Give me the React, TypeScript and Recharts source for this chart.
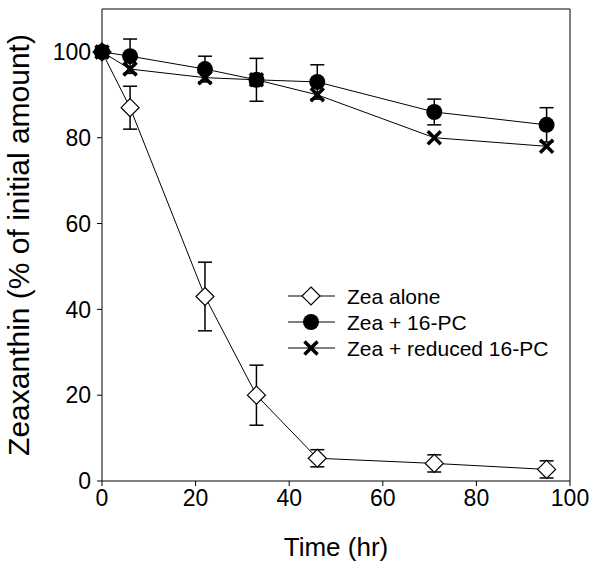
import React from 'react';
import { LineChart, Line, XAxis, YAxis, ErrorBar, Legend, ReferenceLine } from 'recharts';

const times = [0, 6, 22, 33, 46, 71, 95];
const zeaAlone = [100, 87, 43, 20, 5.3, 4.1, 2.7];
const zeaAloneErr = [0, 5, 8, 7, 2, 2, 2];
const zea16PC = [100, 99, 96, 93.5, 93, 86, 83];
const zea16PCErr = [0, 4, 3, 5, 4, 3, 4];
const zeaReduced = [100, 96, 94, 93.5, 90, 80, 78];
const xTicks = [0, 20, 40, 60, 80, 100];
const yTicks = [0, 20, 40, 60, 80, 100];
const seriesNames = ['Zea alone', 'Zea + 16-PC', 'Zea + reduced 16-PC'];

const data = times.map((t, i) => ({
  t,
  alone: zeaAlone[i],
  aloneErr: zeaAloneErr[i],
  pc: zea16PC[i],
  pcErr: zea16PCErr[i],
  red: zeaReduced[i],
}));

const FONT = '"Liberation Sans", Arial, sans-serif';

const diamondPath = (cx: number, cy: number, r: number) =>
  `M${cx},${cy - r}L${cx + r},${cy}L${cx},${cy + r}L${cx - r},${cy}Z`;

const DiamondDot = (props: any) => {
  const { cx, cy, index } = props;
  if (cx == null || cy == null) return <g key={`d${index}`} />;
  return <path key={`d${index}`} d={diamondPath(cx, cy, 9)} fill="#fff" stroke="#000" strokeWidth={1.2} />;
};

const CircleDot = (props: any) => {
  const { cx, cy, index } = props;
  if (cx == null || cy == null) return <g key={`c${index}`} />;
  return <circle key={`c${index}`} cx={cx} cy={cy} r={8} fill="#000" />;
};

const CrossDot = (props: any) => {
  const { cx, cy, index } = props;
  if (cx == null || cy == null) return <g key={`x${index}`} />;
  const s = 6.5;
  return (
    <g key={`x${index}`} stroke="#000" strokeWidth={3.5}>
      <line x1={cx - s} y1={cy - s} x2={cx + s} y2={cy + s} />
      <line x1={cx - s} y1={cy + s} x2={cx + s} y2={cy - s} />
    </g>
  );
};

const LegendContent = () => {
  const rowH = 26;
  return (
    <svg width={300} height={80} style={{ display: 'block' }}>
      {seriesNames.map((name, i) => {
        const y = 12 + i * rowH;
        const cx = 23;
        return (
          <g key={name}>
            <line x1={0} y1={y} x2={47} y2={y} stroke="#000" strokeWidth={1} />
            {i === 0 && <path d={diamondPath(cx, y, 9)} fill="#fff" stroke="#000" strokeWidth={1.2} />}
            {i === 1 && <circle cx={cx} cy={y} r={8} fill="#000" />}
            {i === 2 && (
              <g stroke="#000" strokeWidth={3.5}>
                <line x1={cx - 6.5} y1={y - 6.5} x2={cx + 6.5} y2={y + 6.5} />
                <line x1={cx - 6.5} y1={y + 6.5} x2={cx + 6.5} y2={y - 6.5} />
              </g>
            )}
            <text x={59} y={y} dy="0.36em" fontSize={21} fontFamily={FONT} fill="#000">
              {name}
            </text>
          </g>
        );
      })}
    </svg>
  );
};

export default function App() {
  const tickStyle = { fontSize: 23, fontFamily: FONT, fill: '#000' };
  return (
    <div style={{ position: 'absolute', left: 0, top: 0, width: 604, height: 576, background: '#fff' }}>
      <LineChart width={604} height={576} data={data} margin={{ top: 9, right: 34, left: 0, bottom: 0 }}>
        <XAxis
          xAxisId="b"
          dataKey="t"
          type="number"
          domain={[0, 100]}
          ticks={xTicks}
          height={95}
          tickSize={5}
          tickMargin={4}
          tick={tickStyle}
          stroke="#000"
          axisLine={{ stroke: '#000', strokeWidth: 1 }}
          tickLine={{ stroke: '#000' }}
          label={{ value: 'Time (hr)', position: 'insideBottom', offset: 20, style: { fontSize: 26, fontFamily: FONT, fill: '#000' } }}
        />
        <YAxis
          yAxisId="l"
          type="number"
          domain={[0, 110]}
          ticks={yTicks}
          width={102}
          tickSize={5}
          tickMargin={6}
          tick={tickStyle}
          axisLine={{ stroke: '#000', strokeWidth: 1 }}
          tickLine={{ stroke: '#000' }}
          label={{ value: 'Zeaxanthin (% of initial amount)', angle: -90, position: 'insideLeft', offset: 18, style: { textAnchor: 'middle', fontSize: 30, fontFamily: FONT, fill: '#000' } }}
        />
        <ReferenceLine xAxisId="b" yAxisId="l" y={110} stroke="#000" strokeWidth={1} />
        <ReferenceLine xAxisId="b" yAxisId="l" x={100} stroke="#000" strokeWidth={1} />
        <Legend layout="vertical" align="center" verticalAlign="middle" wrapperStyle={{ left: 288, top: 284, width: 300, height: 80 }} content={LegendContent} />
        <Line xAxisId="b" yAxisId="l" dataKey="alone" name={seriesNames[0]} stroke="#000" strokeWidth={1} dot={DiamondDot} activeDot={false} isAnimationActive={false}>
          <ErrorBar dataKey="aloneErr" width={7} stroke="#000" strokeWidth={1.5} direction="y" />
        </Line>
        <Line xAxisId="b" yAxisId="l" dataKey="pc" name={seriesNames[1]} stroke="#000" strokeWidth={1} dot={CircleDot} activeDot={false} isAnimationActive={false}>
          <ErrorBar dataKey="pcErr" width={7} stroke="#000" strokeWidth={1.5} direction="y" />
        </Line>
        <Line xAxisId="b" yAxisId="l" dataKey="red" name={seriesNames[2]} stroke="#000" strokeWidth={1} dot={CrossDot} activeDot={false} isAnimationActive={false} />
      </LineChart>
    </div>
  );
}
